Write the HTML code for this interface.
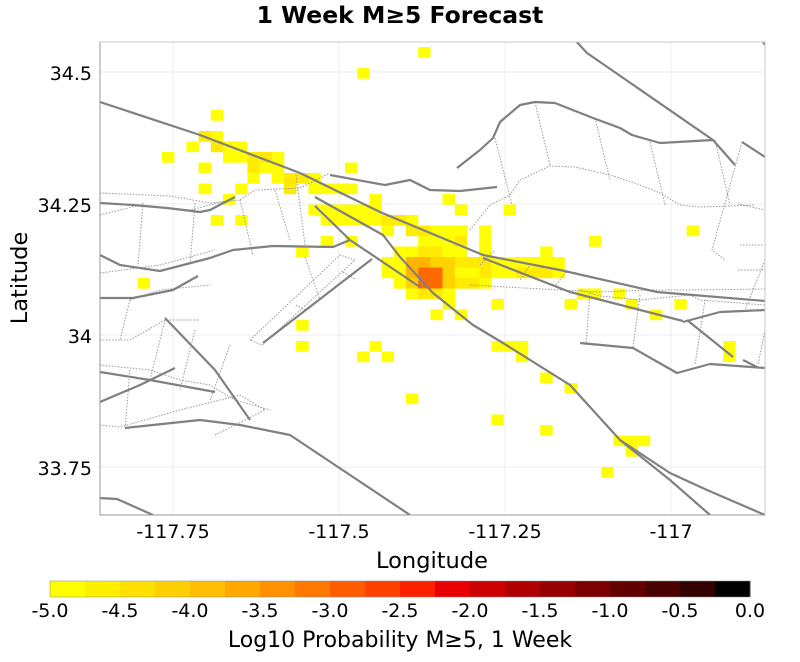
<!DOCTYPE html>
<html><head><meta charset="utf-8"><style>
html,body{margin:0;padding:0;background:#fff;width:800px;height:662px;overflow:hidden}
svg{display:block;font-family:"DejaVu Sans",sans-serif}
</style></head><body>
<svg id="s" width="800" height="662" viewBox="0 0 800 662" xmlns="http://www.w3.org/2000/svg">
<defs><clipPath id="pc"><rect x="100" y="42" width="665" height="473"/></clipPath></defs>
<text x="400" y="23" text-anchor="middle" font-size="23.5" font-weight="bold">1 Week M≥5 Forecast</text>
<g stroke="#ececec" stroke-width="1">
<line x1="173" y1="42" x2="173" y2="515"/><line x1="339" y1="42" x2="339" y2="515"/><line x1="505" y1="42" x2="505" y2="515"/><line x1="671" y1="42" x2="671" y2="515"/>
<line x1="100" y1="72" x2="765" y2="72"/><line x1="100" y1="204" x2="765" y2="204"/><line x1="100" y1="335" x2="765" y2="335"/><line x1="100" y1="467" x2="765" y2="467"/>
</g>
<g id="cells" clip-path="url(#pc)"></g>
<g clip-path="url(#pc)" fill="none">
<g stroke="#999" stroke-width="1" stroke-dasharray="1.5,1.5">
<polyline points="100,193 170,196 210,203 240,200 255,190 300,188 330,173"/>
<polyline points="100,215 140,205 190,210 230,200"/>
<polyline points="100,273 160,265 190,257 215,250"/>
<polyline points="130,300 160,290 210,285"/>
<polyline points="100,340 130,340 165,320 200,320"/>
<polyline points="100,365 150,370 180,380 210,385 235,400 270,410"/>
<polyline points="100,425 120,427 180,410 240,395 265,410 215,435"/>
<polyline points="143,203 138,265"/><polyline points="195,203 190,265"/><polyline points="240,200 253,255"/>
<polyline points="275,190 290,240"/><polyline points="296,175 305,245"/><polyline points="305,257 320,300"/>
<polyline points="130,300 120,340"/><polyline points="165,320 150,380"/><polyline points="195,330 180,390"/>
<polyline points="230,345 210,400"/><polyline points="130,370 125,430"/>
<polyline points="250,340 340,255 355,260 262,345 250,340"/>
<polyline points="343,272 355,279"/><polyline points="296,305 305,310"/>
<polyline points="470,230 490,205 510,195 520,180 550,166 575,167 610,175 635,183 660,193 680,205 700,207 730,206 755,205"/>
<polyline points="495,138 512,205"/><polyline points="535,102 550,165"/><polyline points="595,118 610,180"/>
<polyline points="650,142 665,205"/><polyline points="715,140 730,205"/><polyline points="742,142 712,250 725,260"/>
<polyline points="480,265 495,250"/><polyline points="470,285 560,290 600,292 650,290 690,290 765,289"/>
<polyline points="580,290 600,296 640,300 690,295 700,300 765,305"/>
<polyline points="520,280 530,265"/><polyline points="556,285 566,272"/><polyline points="590,293 586,345"/>
<polyline points="640,295 633,348"/><polyline points="705,300 695,365"/><polyline points="738,270 765,270"/>
<polyline points="765,260 745,310"/><polyline points="765,330 758,365"/>
<polyline points="738,204 765,210"/><polyline points="740,245 765,245"/>
</g>
<g stroke="#808080" stroke-width="2.2" stroke-linejoin="round">
<polyline points="100,102 200,135 300,173 380,212 483,255 560,270 657,292 765,301"/>
<polyline points="483,258 570,292 683,321"/>
<polyline points="315,197 383,235 400,257 433,293 473,325 503,343 570,385 620,440 670,473 707,490 765,515"/>
<polyline points="620,440 670,480 710,515"/>
<polyline points="315,206 350,240 420,287"/>
<polyline points="330,175 385,185 410,180 430,190 460,191 497,187"/>
<polyline points="100,203 133,205 167,208 200,212 210,210 235,197"/>
<polyline points="100,255 120,265 160,271 210,258 233,250 273,246 333,247 350,240"/>
<polyline points="263,343 372,259"/>
<polyline points="575,40 587,53 713,140 735,165"/>
<polyline points="742,142 765,157"/><polyline points="762,40 765,45"/>
<polyline points="457,168 480,150 493,138 500,122 520,105 535,102 555,103 593,118 620,128 632,135 660,143 713,140"/>
<polyline points="580,343 633,348 677,373 710,364 765,368"/>
<polyline points="683,322 720,312 765,310"/>
<polyline points="687,320 733,357"/><polyline points="743,360 757,367"/>
<polyline points="100,298 133,298 173,290 198,276"/>
<polyline points="100,372 150,380 215,392"/>
<polyline points="100,402 140,385 175,368"/>
<polyline points="165,318 215,370 250,420"/>
<polyline points="125,428 200,420 240,425 290,435 350,475 410,515"/>
<polyline points="100,498 117,499 153,515"/>
</g>
</g>
<rect x="100" y="42" width="665" height="473" fill="none" stroke="#c8c8c8" stroke-width="1"/>
<polyline points="100,42 100,515 765,515" fill="none" stroke="#999" stroke-width="1"/>
<g font-size="19" text-anchor="end">
<text x="92" y="80">34.5</text><text x="92" y="212">34.25</text><text x="92" y="343">34</text><text x="92" y="475">33.75</text>
</g>
<g font-size="19" text-anchor="middle">
<text x="173" y="538">-117.75</text><text x="339" y="538">-117.5</text><text x="505" y="538">-117.25</text><text x="671" y="538">-117</text>
</g>
<text x="432" y="568" font-size="22.5" text-anchor="middle">Longitude</text>
<text transform="translate(27,278) rotate(-90)" font-size="22.5" text-anchor="middle">Latitude</text>
<g id="cb"></g>
<rect x="50" y="581" width="700" height="16" fill="none" stroke="#888" stroke-width="0.5"/>
<g font-size="19" text-anchor="middle">
<text x="50" y="617">-5.0</text><text x="120" y="617">-4.5</text><text x="190" y="617">-4.0</text><text x="260" y="617">-3.5</text><text x="330" y="617">-3.0</text><text x="400" y="617">-2.5</text><text x="470" y="617">-2.0</text><text x="540" y="617">-1.5</text><text x="610" y="617">-1.0</text><text x="680" y="617">-0.5</text><text x="750" y="617">0.0</text>
</g>
<text x="400" y="647" font-size="22" text-anchor="middle">Log10 Probability M≥5, 1 Week</text>
</svg>
<script>
var NS="http://www.w3.org/2000/svg";
var C={Y:"#ffff00",G:"#ffea00",D:"#ffd200",T:"#ffb400",O:"#ff6a00"};
var cells=[
[21,-6,"Y"],[16,-4,"Y"],[4,0,"Y"],[3,2,"G"],[4,2,"Y"],
[2,3,"Y"],[4,3,"G"],[5,3,"Y"],[6,3,"Y"],
[0,4,"Y"],[5,4,"Y"],[6,4,"Y"],[7,4,"G"],[8,4,"G"],[9,4,"Y"],
[3,5,"Y"],[7,5,"G"],[8,5,"Y"],[9,5,"Y"],[15,5,"Y"],
[7,6,"Y"],[9,6,"Y"],[10,6,"G"],[11,6,"G"],[12,6,"Y"],
[3,7,"Y"],[6,7,"Y"],[10,7,"G"],[12,7,"Y"],[13,7,"Y"],[14,7,"Y"],[15,7,"Y"],
[5,8,"Y"],[17,8,"Y"],[23,8,"Y"],
[12,9,"Y"],[13,9,"Y"],[14,9,"Y"],[15,9,"Y"],[16,9,"Y"],[17,9,"Y"],[24,9,"Y"],[28,9,"Y"],
[4,10,"Y"],[6,10,"Y"],[13,10,"Y"],[14,10,"Y"],[15,10,"Y"],[16,10,"Y"],[17,10,"Y"],[18,10,"G"],[19,10,"G"],[20,10,"Y"],
[18,11,"Y"],[20,11,"G"],[21,11,"G"],[22,11,"Y"],[23,11,"Y"],[24,11,"Y"],[26,11,"Y"],[43,11,"Y"],
[13,12,"Y"],[15,12,"Y"],[21,12,"Y"],[22,12,"Y"],[23,12,"Y"],[24,12,"G"],[26,12,"Y"],[35,12,"Y"],
[11,13,"Y"],[19,13,"Y"],[20,13,"Y"],[21,13,"G"],[22,13,"G"],[23,13,"Y"],[24,13,"Y"],[26,13,"Y"],[31,13,"Y"],
[18,14,"Y"],[19,14,"Y"],[20,14,"T"],[21,14,"T"],[22,14,"D"],[23,14,"D"],[24,14,"G"],[25,14,"G"],[26,14,"G"],[27,14,"Y"],[28,14,"Y"],[29,14,"Y"],[30,14,"Y"],[31,14,"Y"],[32,14,"Y"],
[18,15,"Y"],[19,15,"Y"],[20,15,"T"],[21,15,"O"],[22,15,"O"],[23,15,"D"],[24,15,"Y"],[25,15,"Y"],[26,15,"G"],[27,15,"Y"],[28,15,"Y"],[29,15,"G"],[30,15,"G"],[31,15,"G"],[32,15,"Y"],
[-2,16,"Y"],[19,16,"Y"],[20,16,"D"],[21,16,"O"],[22,16,"O"],[23,16,"D"],[24,16,"G"],[25,16,"G"],[26,16,"Y"],
[20,17,"Y"],[21,17,"G"],[22,17,"G"],[23,17,"Y"],[34,17,"Y"],[35,17,"Y"],[37,17,"Y"],
[23,18,"Y"],[27,18,"Y"],[33,18,"Y"],[38,18,"Y"],[42,18,"Y"],
[22,19,"Y"],[24,19,"Y"],[40,19,"Y"],
[11,20,"Y"],
[11,22,"Y"],[17,22,"Y"],[27,22,"Y"],[28,22,"Y"],[29,22,"Y"],[46,22,"Y"],
[16,23,"Y"],[18,23,"Y"],[29,23,"Y"],[46,23,"Y"],
[31,25,"Y"],[33,26,"Y"],[20,27,"Y"],[27,29,"Y"],[31,30,"Y"],
[37,31,"Y"],[38,31,"Y"],[39,31,"Y"],[38,32,"Y"],[36,34,"Y"]];
var g=document.getElementById("cells");
cells.forEach(function(c){var r=document.createElementNS(NS,"rect");
r.setAttribute("x",(162+12.2*c[0]).toFixed(1));r.setAttribute("y",(110+10.5*c[1]).toFixed(1));
r.setAttribute("width","12.4");r.setAttribute("height","10.7");r.setAttribute("fill",C[c[2]]);g.appendChild(r);});
var cols=["#ffff00","#fff000","#ffe000","#ffd000","#ffbf00","#ffa800","#ff9000","#ff7800","#ff5c00","#ff4000","#ff2000","#e80000","#cc0000","#b00000","#960000","#7c0000","#620000","#4a0000","#320000","#000000"];
var cb=document.getElementById("cb");
cols.forEach(function(c,i){var r=document.createElementNS(NS,"rect");
r.setAttribute("x",50+35*i);r.setAttribute("y",581);r.setAttribute("width",35.5);r.setAttribute("height",16);r.setAttribute("fill",c);cb.appendChild(r);});
</script>
</body></html>
